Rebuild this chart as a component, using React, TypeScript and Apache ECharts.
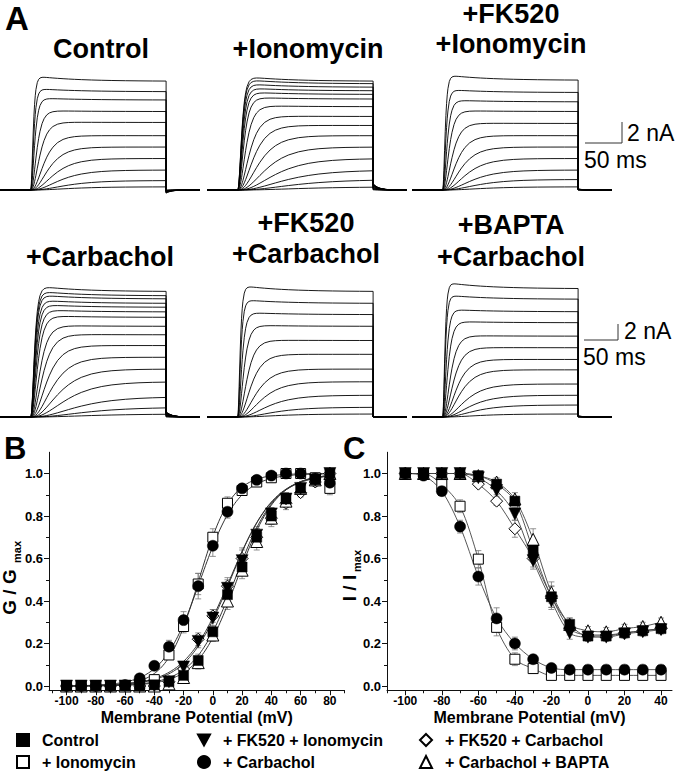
import React, { useEffect, useRef } from "react";
import * as echarts from "echarts";

const FONT = '"Liberation Sans", Arial, Helvetica, sans-serif';

// ---------- Panel A: current families (peak amplitude of each trace, nA) ----------
const ampControl = [10.9, 9.7, 8.8, 7.6, 6.5, 5.2, 4.1, 3.0, 1.9, 0.9, 0.3];
const ampIonomycin = [10.9, 10.6, 10.2, 9.8, 9.4, 8.9, 8.1, 7.1, 6.2, 5.2, 4.1, 3.0, 1.9, 1.0, 0.3];
const ampFKIonomycin = [11.0, 9.6, 8.6, 7.6, 6.4, 5.2, 4.1, 3.0, 1.9, 1.0, 0.3];
const ampCarbachol = [17.6, 16.9, 16.4, 15.7, 15.1, 14.4, 13.6, 12.3, 11.1, 9.6, 8.0, 6.4, 4.7, 2.7, 1.3, 0.4];
const ampFKCarbachol = [17.6, 15.7, 14.0, 12.3, 10.3, 8.4, 6.4, 4.7, 2.9, 1.3, 0.4];
const ampBapta = [18.0, 16.3, 14.4, 12.8, 10.9, 9.3, 7.7, 6.3, 4.4, 2.9, 1.6, 0.4];
const panelAmps = [ampControl, ampIonomycin, ampFKIonomycin, ampCarbachol, ampFKCarbachol, ampBapta];
const panelTauScale = [1.0, 1.6, 1.0, 1.5, 1.0, 0.9];
const panelTail = [-0.3, 0.6, 0.1, 0.7, 0.05, 0.15];
const panelTitles = [
  ["Control"],
  ["+Ionomycin"],
  ["+FK520", "+Ionomycin"],
  ["+Carbachol"],
  ["+FK520", "+Carbachol"],
  ["+BAPTA", "+Carbachol"],
];
const pulseMs = 200;
const riseTimes = [0.5, 1, 1.5, 2, 3, 4, 5, 6, 7, 8, 10, 12, 14, 17, 20, 24, 28, 33, 40, 48, 56, 65, 75, 90, 105, 120, 140, 160, 180, 200];
const tailTimes = [1, 2, 4, 6, 9, 13, 18, 25, 35, 50];

// ---------- Panel B: G/Gmax ----------
const voltB = [-100, -90, -80, -70, -60, -50, -40, -30, -20, -10, 0, 10, 20, 30, 40, 50, 60, 70, 80];
const gControl = [0, 0, 0, 0, 0, 0, 0.005, 0.02, 0.05, 0.12, 0.255, 0.43, 0.56, 0.7, 0.8, 0.88, 0.93, 0.97, 1.0];
const gIonomycin = [0, 0, 0, 0, 0, 0.01, 0.03, 0.146, 0.28, 0.48, 0.7, 0.86, 0.92, 0.96, 0.98, 1.0, 1.0, 0.98, 0.93];
const gFKIonomycin = [0, 0, 0, 0, 0, 0, 0, 0.02, 0.09, 0.21, 0.32, 0.46, 0.59, 0.71, 0.81, 0.88, 0.93, 0.97, 1.0];
const gCarbachol = [0, 0, 0, 0, 0.005, 0.036, 0.095, 0.185, 0.31, 0.47, 0.66, 0.82, 0.93, 0.97, 0.99, 1.0, 1.0, 0.977, 0.957];
const gFKCarbachol = [0, 0, 0, 0, 0, 0, 0, 0.02, 0.08, 0.22, 0.33, 0.47, 0.6, 0.7, 0.79, 0.86, 0.91, 0.96, 1.0];
const gBapta = [0, 0, 0, 0, 0, 0, 0, 0.01, 0.04, 0.11, 0.24, 0.4, 0.545, 0.68, 0.79, 0.87, 0.93, 0.97, 1.0];
const eGControl = [0, 0, 0, 0, 0, 0, 0.005, 0.01, 0.02, 0.03, 0.03, 0.04, 0.04, 0.04, 0.04, 0.03, 0.02, 0.02, 0.01];
const eGIonomycin = [0, 0, 0, 0, 0, 0.005, 0.01, 0.02, 0.03, 0.05, 0.04, 0.03, 0.02, 0.02, 0.01, 0.01, 0.01, 0.02, 0.03];
const eGFKIonomycin = [0, 0, 0, 0, 0, 0, 0.005, 0.01, 0.02, 0.03, 0.04, 0.04, 0.05, 0.04, 0.03, 0.03, 0.02, 0.02, 0.01];
const eGCarbachol = [0, 0, 0, 0, 0, 0.01, 0.01, 0.03, 0.04, 0.06, 0.05, 0.03, 0.02, 0.01, 0.01, 0.01, 0.01, 0.02, 0.02];
const eGFKCarbachol = [0, 0, 0, 0, 0, 0, 0.005, 0.01, 0.02, 0.03, 0.03, 0.04, 0.05, 0.04, 0.03, 0.03, 0.02, 0.02, 0.01];
const eGBapta = [0, 0, 0, 0, 0, 0, 0.005, 0.01, 0.02, 0.03, 0.03, 0.04, 0.04, 0.04, 0.04, 0.03, 0.02, 0.02, 0.01];
// Boltzmann fit parameters (V1/2 mV, slope k mV)
const fitBVhalf = [15, -9.5, 12, -8.5, 11.5, 16.5];
const fitBSlope = [14, 11, 15, 13, 15.5, 13.5];

// ---------- Panel C: I/Imax ----------
const voltC = [-100, -90, -80, -70, -60, -50, -40, -30, -20, -10, 0, 10, 20, 30, 40];
const iControl = [1.0, 1.0, 1.0, 1.0, 0.99, 0.95, 0.87, 0.64, 0.42, 0.29, 0.235, 0.235, 0.25, 0.26, 0.27];
const iIonomycin = [1.0, 1.0, 0.948, 0.846, 0.597, 0.276, 0.126, 0.082, 0.05, 0.05, 0.05, 0.05, 0.05, 0.05, 0.05];
const iFKIonomycin = [1.0, 1.0, 1.0, 1.0, 0.98, 0.92, 0.81, 0.59, 0.4, 0.25, 0.23, 0.23, 0.245, 0.255, 0.265];
const iCarbachol = [1.0, 0.99, 0.917, 0.75, 0.515, 0.318, 0.2, 0.126, 0.085, 0.077, 0.077, 0.077, 0.077, 0.077, 0.077];
const iFKCarbachol = [1.0, 1.0, 1.0, 1.0, 0.95, 0.87, 0.74, 0.6, 0.42, 0.27, 0.24, 0.24, 0.25, 0.26, 0.27];
const iBapta = [1.0, 1.0, 1.0, 1.0, 0.99, 0.96, 0.88, 0.69, 0.44, 0.29, 0.26, 0.255, 0.27, 0.28, 0.3];
const eIControl = [0, 0, 0, 0, 0.01, 0.01, 0.02, 0.04, 0.05, 0.03, 0.02, 0.02, 0.02, 0.02, 0.02];
const eIIonomycin = [0, 0.01, 0.02, 0.03, 0.04, 0.04, 0.03, 0.02, 0.01, 0.01, 0.01, 0.01, 0.01, 0.01, 0.01];
const eIFKIonomycin = [0, 0, 0, 0, 0.01, 0.02, 0.03, 0.04, 0.04, 0.03, 0.02, 0.02, 0.02, 0.02, 0.02];
const eICarbachol = [0, 0.01, 0.02, 0.03, 0.04, 0.05, 0.03, 0.02, 0.01, 0.01, 0.01, 0.01, 0.01, 0.01, 0.01];
const eIFKCarbachol = [0, 0, 0, 0, 0.01, 0.02, 0.04, 0.04, 0.05, 0.03, 0.02, 0.02, 0.02, 0.02, 0.02];
const eIBapta = [0, 0, 0, 0, 0.01, 0.02, 0.03, 0.05, 0.05, 0.03, 0.02, 0.02, 0.02, 0.02, 0.02];

const seriesNames = ["Control", "+ Ionomycin", "+ FK520 + Ionomycin", "+ Carbachol", "+ FK520 + Carbachol", "+ Carbachol + BAPTA"];
const bValues = [gControl, gIonomycin, gFKIonomycin, gCarbachol, gFKCarbachol, gBapta];
const bErrors = [eGControl, eGIonomycin, eGFKIonomycin, eGCarbachol, eGFKCarbachol, eGBapta];
const cValues = [iControl, iIonomycin, iFKIonomycin, iCarbachol, iFKCarbachol, iBapta];
const cErrors = [eIControl, eIIonomycin, eIFKIonomycin, eICarbachol, eIFKCarbachol, eIBapta];

const yTicks = [0, 0.2, 0.4, 0.6, 0.8, 1.0];
const yMinor = [0.1, 0.3, 0.5, 0.7, 0.9];
const xTicksB = [-100, -80, -60, -40, -20, 0, 20, 40, 60, 80];
const xMinorB = [-110, -90, -70, -50, -30, -10, 10, 30, 50, 70, 90];
const xTicksC = [-100, -80, -60, -40, -20, 0, 20, 40];
const xMinorC = [-110, -90, -70, -50, -30, -10, 10, 30];

// styling per series (order = seriesNames)
const symbolOf = ["rect", "rect", "triangle", "circle", "diamond", "triangle"];
const rotateOf = [0, 0, 180, 0, 0, 0];
const legendIconOf = ["rect", "rect", "path://M0,0 L10,0 L5,9 Z", "circle", "diamond", "triangle"];
const filledOf = [true, false, true, true, false, false];
const sizeOf = [10, 10, 12, 11, 12, 12];
const legendPos = [[16, 732], [16, 754], [197, 732], [197, 754], [419, 732], [419, 754]];

function buildTrace(A: number, Amax: number, tauScale: number, tail: number) {
  const r = A / Amax;
  const tau = tauScale * (2.5 + 38 * (1 - r) * (1 - r));
  const inact = 0.05 * r * r * r;
  const pts: number[][] = [[-45, 0], [0, 0]];
  for (const t of riseTimes) {
    const v = A * Math.pow(1 - Math.exp(-t / tau), 3) * (1 - inact * (1 - Math.exp(-t / 60)));
    pts.push([t, v]);
  }
  pts.push([pulseMs, tail * r]);
  for (const dt of tailTimes) pts.push([pulseMs + dt, tail * r * Math.exp(-dt / 8)]);
  return pts;
}

function errorSeries(name: string, axis: number, volts: number[], vals: number[], errs: number[]) {
  return {
    type: "custom",
    name,
    xAxisIndex: axis,
    yAxisIndex: axis,
    silent: true,
    z: 1,
    encode: { x: 0, y: 1 },
    data: volts.map((v, i) => [v, vals[i], errs[i]]),
    renderItem: (_p: any, api: any) => {
      const x = api.value(0);
      const y = api.value(1);
      const e = api.value(2);
      if (!e) return null;
      const p1 = api.coord([x, y + e]);
      const p2 = api.coord([x, y - e]);
      const st = { stroke: "#777", lineWidth: 0.8 };
      return {
        type: "group",
        children: [
          { type: "line", shape: { x1: p1[0], y1: p1[1], x2: p2[0], y2: p2[1] }, style: st },
          { type: "line", shape: { x1: p1[0] - 3, y1: p1[1], x2: p1[0] + 3, y2: p1[1] }, style: st },
          { type: "line", shape: { x1: p2[0] - 3, y1: p2[1], x2: p2[0] + 3, y2: p2[1] }, style: st },
        ],
      };
    },
  };
}

export default function App() {
  const ref = useRef<HTMLDivElement>(null);
  useEffect(() => {
    document.body.style.margin = "0";
    const chart = echarts.init(ref.current!, null, { renderer: "svg" });

    const grids: any[] = [];
    const xAxes: any[] = [];
    const yAxes: any[] = [];
    const series: any[] = [];
    const graphics: any[] = [];

    // Panel A grids
    const colLeft = [0, 207, 412];
    for (let p = 0; p < 6; p++) {
      const row = p < 3 ? 0 : 1;
      grids.push({
        left: colLeft[p % 3],
        top: row === 0 ? 53.5 : 274.5,
        width: 200,
        height: row === 0 ? 147 : 150,
        containLabel: false,
        outerBoundsMode: "none",
      });
      xAxes.push({ gridIndex: p, type: "value", min: -45, max: 250, show: false });
      yAxes.push({ gridIndex: p, type: "value", min: -1, max: row === 0 ? 13 : 19, show: false });
      const amps = panelAmps[p];
      const amax = amps[0];
      amps.forEach((a, i) => {
        series.push({
          type: "line",
          name: "trace" + p + "_" + i,
          xAxisIndex: p,
          yAxisIndex: p,
          data: buildTrace(a, amax, panelTauScale[p], panelTail[p]),
          showSymbol: false,
          symbol: "none",
          silent: true,
          lineStyle: { color: "#000", width: 0.9 },
        });
      });
    }

    // Panels B and C grids
    const axisTextStyle = { color: "#000", fontWeight: "bold", fontFamily: FONT };
    const addPlot = (gi: number, left: number, width: number, xmin: number, xmax: number, xt: number[], xm: number[]) => {
      grids.push({ left, top: 452.25, width, height: 238, containLabel: false, outerBoundsMode: "none" });
      const lineStyle = { color: "#111", width: 1 };
      xAxes.push({
        gridIndex: gi, type: "value", min: xmin, max: xmax, position: "bottom",
        axisLine: { show: true, onZero: false, lineStyle },
        axisTick: { show: true, customValues: xt, length: 5, lineStyle },
        axisLabel: { show: true, customValues: xt, fontSize: 12, margin: 5, ...axisTextStyle },
        splitLine: { show: false },
        name: "Membrane Potential (mV)", nameLocation: "middle", nameGap: 19,
        nameTextStyle: { fontSize: 16, ...axisTextStyle },
      });
      xAxes.push({
        gridIndex: gi, type: "value", min: xmin, max: xmax, position: "bottom", offset: 0,
        axisLine: { show: false, onZero: false },
        axisTick: { show: true, customValues: xm, length: 3, lineStyle },
        axisLabel: { show: false },
        splitLine: { show: false },
      });
      yAxes.push({
        gridIndex: gi, type: "value", min: -0.02, max: 1.1, position: "left",
        axisLine: { show: true, onZero: false, lineStyle },
        axisTick: { show: true, customValues: yTicks, length: 5, lineStyle },
        axisLabel: { show: true, customValues: yTicks, fontSize: 13, margin: 6, formatter: (v: number) => v.toFixed(1), ...axisTextStyle },
        splitLine: { show: false },
      });
      yAxes.push({
        gridIndex: gi, type: "value", min: -0.02, max: 1.1, position: "left", offset: 0,
        axisLine: { show: false, onZero: false },
        axisTick: { show: true, customValues: yMinor, length: 3, lineStyle },
        axisLabel: { show: false },
        splitLine: { show: false },
      });
    };
    addPlot(6, 49, 295.5, -112, 90, xTicksB, xMinorB);   // xAxis 6,7 yAxis 6,7
    addPlot(7, 387, 285, -110, 46, xTicksC, xMinorC);    // xAxis 8,9 yAxis 8,9

    const drawOrder = [1, 4, 5, 0, 2, 3];
    // B
    for (let s = 0; s < 6; s++) series.push(errorSeries("errB" + s, 6, voltB, bValues[s], bErrors[s]));
    for (let s = 0; s < 6; s++) {
      const pts: number[][] = [];
      for (let v = -100; v <= 80; v += 1) pts.push([v, 1 / (1 + Math.exp((fitBVhalf[s] - v) / fitBSlope[s]))]);
      series.push({
        type: "line", name: "fitB" + s, xAxisIndex: 6, yAxisIndex: 6, data: pts,
        showSymbol: false, symbol: "none", silent: true, z: 2,
        lineStyle: { color: "#333", width: 1 },
      });
    }
    const scatterItem = (s: number) => ({
      type: "scatter", name: seriesNames[s], symbol: symbolOf[s], symbolRotate: rotateOf[s], symbolSize: sizeOf[s],
      z: 3,
      itemStyle: filledOf[s]
        ? { color: "#000", borderColor: "#000", borderWidth: 0.5, opacity: 1 }
        : { color: "#fff", borderColor: "#000", borderWidth: 1, opacity: 1 },
    });
    for (const s of drawOrder) {
      series.push({ ...scatterItem(s), xAxisIndex: 6, yAxisIndex: 6, data: voltB.map((v, i) => [v, bValues[s][i]]) });
    }
    // C
    for (let s = 0; s < 6; s++) series.push(errorSeries("errC" + s, 8, voltC, cValues[s], cErrors[s]));
    for (let s = 0; s < 6; s++) {
      series.push({
        type: "line", name: "lineC" + s, xAxisIndex: 8, yAxisIndex: 8,
        data: voltC.map((v, i) => [v, cValues[s][i]]), smooth: 0.3,
        showSymbol: false, symbol: "none", silent: true, z: 2,
        lineStyle: { color: "#444", width: 0.9 },
      });
    }
    for (const s of drawOrder) {
      series.push({ ...scatterItem(s), xAxisIndex: 8, yAxisIndex: 8, data: voltC.map((v, i) => [v, cValues[s][i]]) });
    }

    // Titles of panel A
    const titleX = [101, 308, 511, 100, 306, 511];
    const singleY = [49, 49, 0, 257, 0, 0];
    const doubleY = [[0, 0], [0, 0], [14, 44], [0, 0], [223, 254], [225, 257]];
    panelTitles.forEach((lines, p) => {
      lines.forEach((t, li) => {
        graphics.push({
          type: "text", x: titleX[p], y: lines.length === 1 ? singleY[p] : doubleY[p][li],
          style: { text: t, fontSize: 27, fontWeight: "bold", fontFamily: FONT, fill: "#000", align: "center", verticalAlign: "middle" },
        });
      });
    });
    // Panel letters
    const letter = (t: string, x: number, y: number, size: number) => ({
      type: "text", x, y,
      style: { text: t, fontSize: size, fontWeight: "bold", fontFamily: FONT, fill: "#000", align: "left", verticalAlign: "middle" },
    });
    graphics.push(letter("A", 5, 18, 33), letter("B", 4, 448, 31), letter("C", 343, 448, 31));
    // Scale bars
    const bar = (x1: number, y1: number, x2: number, y2: number) => ({
      type: "line", shape: { x1, y1, x2, y2 }, style: { stroke: "#333", lineWidth: 1 },
    });
    const txt = (t: string, x: number, y: number) => ({
      type: "text", x, y,
      style: { text: t, fontSize: 23, fontFamily: FONT, fill: "#000", align: "left", verticalAlign: "middle" },
    });
    graphics.push(bar(622, 122, 622, 143), bar(585, 143, 622, 143), txt("2 nA", 627, 133), txt("50 ms", 584, 160));
    graphics.push(bar(618, 324, 618, 340), bar(584, 340, 618, 340), txt("2 nA", 624, 331), txt("50 ms", 583, 357));
    // Y axis titles with subscript
    const rot = (t: string, x: number, y: number, size: number) => ({
      type: "text", x, y, rotation: Math.PI / 2,
      style: { text: t, fontSize: size, fontWeight: "bold", fontFamily: FONT, fill: "#000", align: "center", verticalAlign: "middle" },
    });
    graphics.push(rot("G / G", 9, 592, 19), rot("max", 17, 552, 11));
    graphics.push(rot("I / I", 349, 588, 19), rot("max", 357, 561, 11));

    const legends = seriesNames.map((n, s) => ({
      data: [{ name: n, icon: legendIconOf[s] }],
      left: legendPos[s][0],
      top: legendPos[s][1],
      orient: "horizontal",
      padding: 0,
      itemWidth: 12,
      itemHeight: 12,
      selectedMode: false,
      textStyle: { fontSize: 16, fontWeight: "bold", color: "#000", fontFamily: FONT, padding: [0, 0, 0, 8] },
    }));

    chart.setOption({
      animation: false,
      backgroundColor: "#fff",
      grid: grids,
      xAxis: xAxes,
      yAxis: yAxes,
      legend: legends,
      series,
      graphic: { elements: graphics },
    });
    return () => chart.dispose();
  }, []);
  return <div ref={ref} style={{ position: "absolute", left: 0, top: 0, width: 680, height: 773 }} />;
}
